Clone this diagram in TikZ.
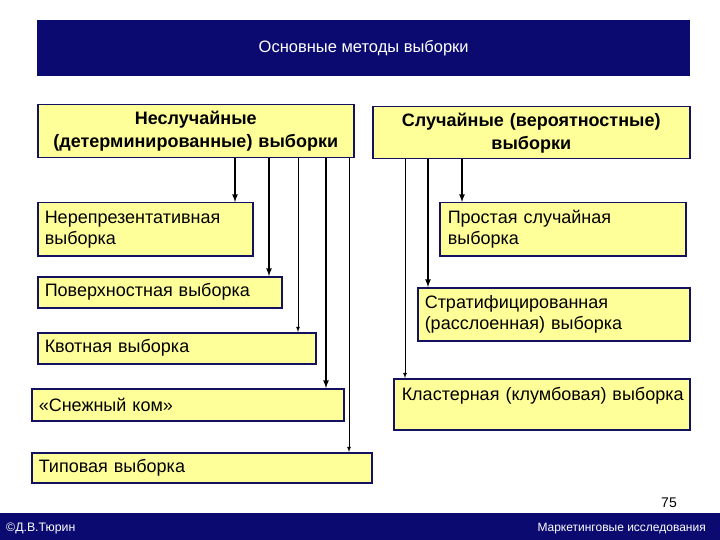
\documentclass[tikz,border=0pt]{standalone}
\usepackage{fontspec}
\setmainfont{Liberation Sans}
\usetikzlibrary{positioning}

\definecolor{temno}{RGB}{10,10,112}
\definecolor{zhelt}{RGB}{255,255,153}
\definecolor{ramka}{RGB}{18,18,96}

\tikzset{
    blok/.style={draw=ramka, line width=1.5pt, fill=zhelt, anchor=north west,
        inner xsep=7pt, inner ysep=0pt, align=left,
        font=\fontsize{18}{21}\selectfont},
    glavblok/.style={blok, align=center, font=\fontsize{18}{23}\selectfont\bfseries},
    tolst/.style={->, line width=1.6pt},
    tonk/.style={->, line width=0.8pt}
}

\begin{document}
\begin{tikzpicture}[x=1pt, y=-1pt, >=latex]

    \useasboundingbox (0,0) rectangle (720,540);

    % Заголовок
    \node[fill=temno, anchor=north west, minimum width=653, minimum height=56, inner sep=0pt,
        text=white, font=\fontsize{16.5}{18}\selectfont] (zagolovok) at (37,20) {Основные методы выборки};

    % Две группы
    \node[glavblok, text width=302, minimum height=53] (neslu) at (37,104) {Неслучайные\\(детерминированные) выборки};
    \node[glavblok, text width=303, minimum height=52] (slu) at (372,106) {Случайные (вероятностные)\\выборки};

    % Неслучайные выборки
    \node[blok, text width=201, minimum height=53] (nerep) at (37,202) {Нерепрезентативная\\выборка};
    \node[blok, text width=230, minimum height=31] (poverh) at (37,276) {Поверхностная выборка};
    \node[blok, text width=264, minimum height=31] (kvot) at (37,332) {Квотная выборка};
    \node[blok, text width=298, minimum height=32] (snezh) at (31,388) {«Снежный ком»};
    \node[blok, text width=326, minimum height=30] (tipov) at (31,452) {Типовая выборка};

    % Случайные выборки
    \node[blok, text width=230, inner xsep=8pt, minimum height=53] (prost) at (439,202) {Простая случайная\\выборка};
    \node[blok, text width=258, minimum height=53] (strat) at (417,287) {Стратифицированная\\(расслоенная) выборка};
    \node[blok, text width=286, inner xsep=5pt, minimum height=51] (klast) at (393,378) {\hspace{3pt}Кластерная (клумбовая) выборка\\~};

    % Стрелки
    \draw[tolst] (neslu.south -| 235,0) -- (nerep.north -| 235,0);
    \draw[tolst] (neslu.south -| 269,0) -- (poverh.north -| 269,0);
    \draw[tonk] (neslu.south -| 298,0) -- (kvot.north -| 298,0);
    \draw[tolst] (neslu.south -| 326,0) -- (snezh.north -| 326,0);
    \draw[tonk] (neslu.south -| 349,0) -- (tipov.north -| 349,0);

    \draw[tolst] (slu.south -| 462,0) -- (prost.north -| 462,0);
    \draw[tolst] (slu.south -| 428,0) -- (strat.north -| 428,0);
    \draw[tonk] (slu.south -| 405,0) -- (klast.north -| 405,0);

    % Нижняя полоса
    \node[font=\fontsize{14}{16}\selectfont] (nomer) at (669,503) {75};
    \node[fill=temno, anchor=north west, minimum width=720, minimum height=27, inner sep=0pt] (podval) at (0,513) {};
    \node[anchor=base west, text=white, inner sep=0pt, font=\fontsize{12.3}{14}\selectfont] (avtor) at (6,531) {©Д.В.Тюрин};
    \node[anchor=base east, text=white, inner sep=0pt, font=\fontsize{12}{14}\selectfont] (kurs) at (706,531) {Маркетинговые исследования};

\end{tikzpicture}
\end{document}
